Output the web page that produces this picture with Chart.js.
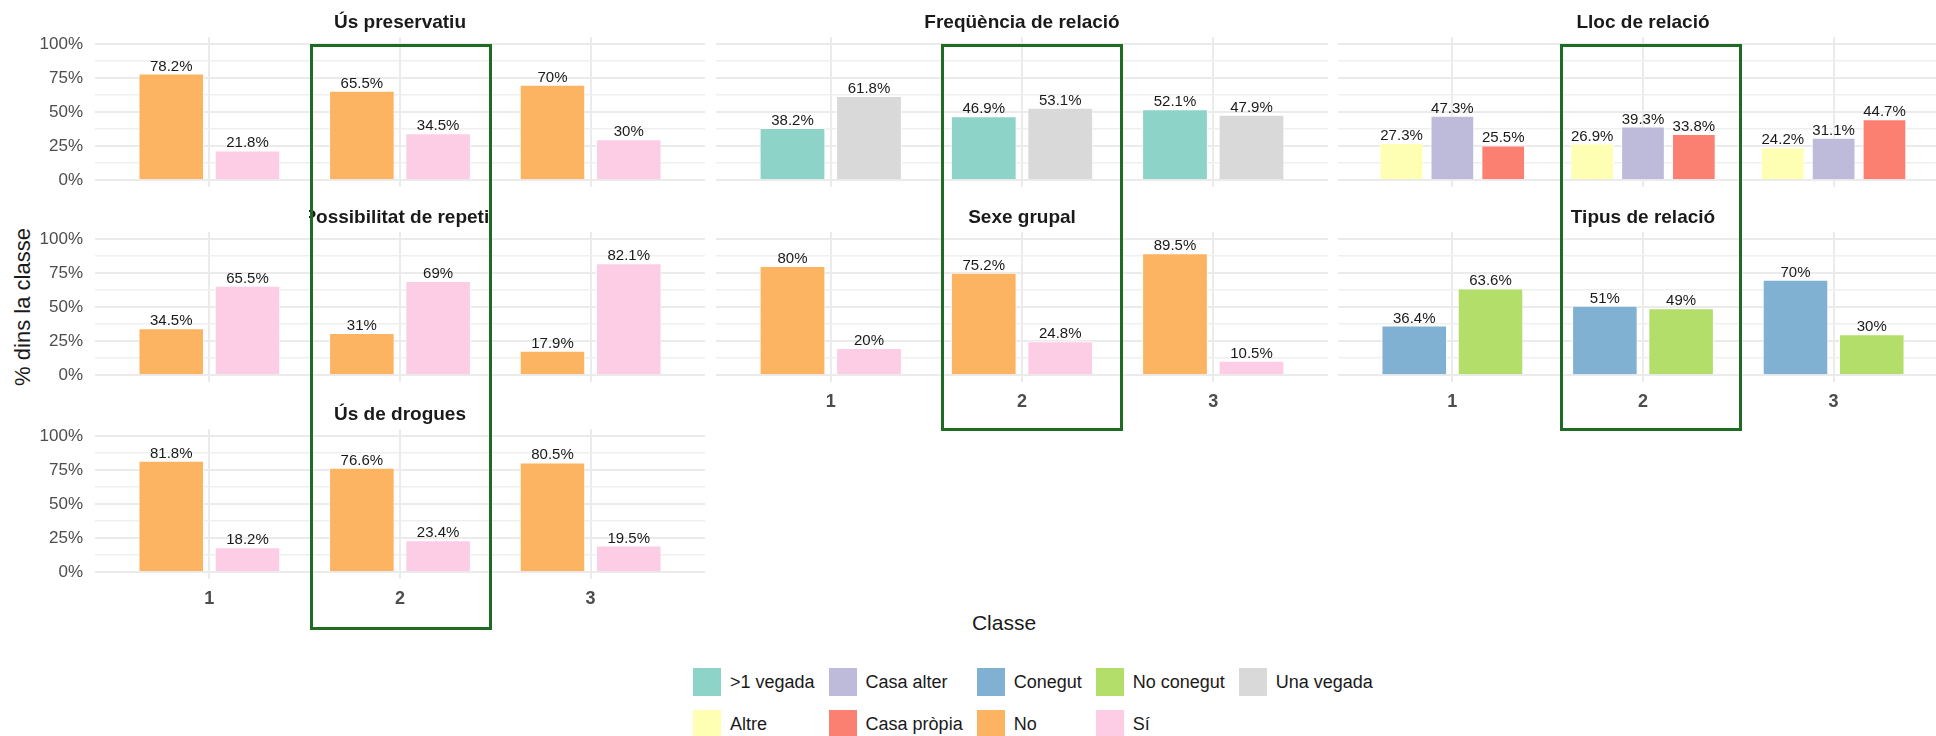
<!DOCTYPE html>
<html>
<head>
<meta charset="utf-8">
<script src="https://cdn.jsdelivr.net/npm/chart.js@4.4.1/dist/chart.umd.min.js"></script>
<style>
  html, body { margin: 0; padding: 0; background: #fff; }
  body { width: 1936px; height: 736px; overflow: hidden; position: relative; font-family: 'Liberation Sans', Arial, sans-serif; }
  .panel { position: absolute; }
  .box { position: absolute; border: 3px solid #1f6b23; box-sizing: border-box; pointer-events: none; z-index: 5; }
  #ytitle { position: absolute; left: 23px; top: 307px; transform: translate(-50%, -50%) rotate(-90deg); font-size: 22px; color: #1a1a1a; white-space: nowrap; }
  #xtitle { position: absolute; left: 1004px; top: 623px; transform: translate(-50%, -50%); font-size: 21px; color: #1a1a1a; }
  #legend { position: absolute; left: 693px; top: 668px; display: grid; grid-auto-flow: column; grid-template-rows: 28px 28px; row-gap: 14px; column-gap: 14px; }
  .item { display: flex; align-items: center; font-size: 18px; color: #1a1a1a; white-space: nowrap; }
  .key { width: 28px; height: 28px; margin-right: 9px; }
</style>
</head>
<body>
<div id="ytitle">% dins la classe</div>
<div id="xtitle">Classe</div>
<div id="legend"></div>
<script>
// Classes on the x axis and the y ticks
const classes = ['1', '2', '3'];
const yTicks = [0, 25, 50, 75, 100];
const yMinorTicks = [12.5, 37.5, 62.5, 87.5];

// % within each class
const preservatiuNo = [78.2, 65.5, 70];
const preservatiuSi = [21.8, 34.5, 30];
const frequenciaMesUna = [38.2, 46.9, 52.1];
const frequenciaUna = [61.8, 53.1, 47.9];
const llocAltre = [27.3, 26.9, 24.2];
const llocCasaAlter = [47.3, 39.3, 31.1];
const llocCasaPropia = [25.5, 33.8, 44.7];
const repetirNo = [34.5, 31, 17.9];
const repetirSi = [65.5, 69, 82.1];
const grupalNo = [80, 75.2, 89.5];
const grupalSi = [20, 24.8, 10.5];
const tipusConegut = [36.4, 51, 70];
const tipusNoConegut = [63.6, 49, 30];
const droguesNo = [81.8, 76.6, 80.5];
const droguesSi = [18.2, 23.4, 19.5];

const legendOrder = ['>1 vegada', 'Altre', 'Casa alter', 'Casa pròpia', 'Conegut', 'No', 'No conegut', 'Sí', 'Una vegada'];

// Set3 palette
const colors = {
  '>1 vegada': '#8DD3C7', 'Altre': '#FFFFB3', 'Casa alter': '#BEBADA', 'Casa pròpia': '#FB8072',
  'Conegut': '#80B1D3', 'No': '#FDB462', 'No conegut': '#B3DE69', 'Sí': '#FCCDE5', 'Una vegada': '#D9D9D9'
};

const panels = [
  { title: 'Ús preservatiu', col: 0, row: 0, series: [['No', preservatiuNo], ['Sí', preservatiuSi]] },
  { title: 'Freqüència de relació', col: 1, row: 0, series: [['>1 vegada', frequenciaMesUna], ['Una vegada', frequenciaUna]] },
  { title: 'Lloc de relació', col: 2, row: 0, series: [['Altre', llocAltre], ['Casa alter', llocCasaAlter], ['Casa pròpia', llocCasaPropia]] },
  { title: 'Possibilitat de repetir', col: 0, row: 1, series: [['No', repetirNo], ['Sí', repetirSi]], clipTitle: true },
  { title: 'Sexe grupal', col: 1, row: 1, series: [['No', grupalNo], ['Sí', grupalSi]], xLabels: true },
  { title: 'Tipus de relació', col: 2, row: 1, series: [['Conegut', tipusConegut], ['No conegut', tipusNoConegut]], xLabels: true },
  { title: 'Ús de drogues', col: 0, row: 2, series: [['No', droguesNo], ['Sí', droguesSi]], xLabels: true }
];

// layout
const colLeft = [0, 716, 1338];
const colRight = [705, 1328, 1948];
const rowTop = [0, 195, 392];
const TITLE_H = 37, PLOT_H = 150, XAXIS_H = 40;

const valueLabels = {
  id: 'valueLabels',
  afterDatasetsDraw(chart) {
    const ctx = chart.ctx;
    ctx.save();
    ctx.font = '15px "Liberation Sans Narrow", "Liberation Sans", Arial, sans-serif';
    ctx.fillStyle = '#1a1a1a';
    ctx.textAlign = 'center';
    ctx.textBaseline = 'alphabetic';
    chart.data.datasets.forEach((ds, di) => {
      chart.getDatasetMeta(di).data.forEach((bar, i) => {
        ctx.fillText(ds.data[i].y + '%', bar.x, bar.y - 3);
      });
    });
    ctx.restore();
  }
};

function panelTitle(text, clip) {
  return {
    id: 'panelTitle',
    afterDraw(chart) {
      const { ctx, chartArea } = chart;
      const cx = (chartArea.left + chartArea.right) / 2;
      ctx.save();
      if (clip) {
        ctx.beginPath();
        ctx.rect(cx - 91, 0, 182, chartArea.top);
        ctx.clip();
      }
      ctx.font = 'bold 19px "Liberation Sans", Arial, sans-serif';
      ctx.fillStyle = '#1a1a1a';
      ctx.textAlign = 'center';
      ctx.textBaseline = 'middle';
      ctx.fillText(text, cx, chartArea.top - 14);
      ctx.restore();
    }
  };
}

function makePanel(p) {
  const left = colLeft[p.col];
  const width = colRight[p.col] - left;
  const height = TITLE_H + PLOT_H + XAXIS_H;
  const top = rowTop[p.row];
  const showY = p.col === 0;

  const wrap = document.createElement('div');
  wrap.className = 'panel';
  wrap.style.left = left + 'px';
  wrap.style.top = top + 'px';
  wrap.style.width = width + 'px';
  wrap.style.height = height + 'px';
  const canvas = document.createElement('canvas');
  canvas.width = width;
  canvas.height = height;
  canvas.style.width = width + 'px';
  canvas.style.height = height + 'px';
  wrap.appendChild(canvas);
  document.body.appendChild(wrap);

  new Chart(canvas, {
    type: 'bar',
    data: {
      datasets: p.series.map(([name, values]) => ({
        label: name,
        data: values.map((v, i) => ({ x: i + 1, y: v })),
        backgroundColor: colors[name],
        borderColor: 'rgba(255,255,255,0.8)',
        borderWidth: 1,
        categoryPercentage: 0.8,
        barPercentage: 0.86
      }))
    },
    options: {
      responsive: false,
      animation: false,
      devicePixelRatio: 1,
      layout: { padding: { top: TITLE_H, left: 0, right: 0, bottom: 0 } },
      plugins: { legend: { display: false }, tooltip: { enabled: false }, title: { display: false } },
      scales: {
        x: {
          type: 'linear',
          min: 0.4,
          max: 3.6,
          offset: false,
          border: { display: false },
          grid: { offset: false, color: '#ebebeb', lineWidth: 2, drawTicks: false },
          afterBuildTicks: s => { s.ticks = classes.map((c, i) => ({ value: i + 1 })); },
          afterFit: s => { s.height = XAXIS_H; },
          ticks: {
            display: !!p.xLabels,
            autoSkip: false,
            maxRotation: 0,
            padding: 9,
            color: '#4d4d4d',
            font: { family: '"Liberation Sans", Arial, sans-serif', size: 18, weight: 'bold' },
            callback: v => classes[v - 1]
          }
        },
        y: {
          min: -5,
          max: 105,
          border: { display: false },
          grid: {
            color: ctx => yTicks.includes(ctx.tick.value) ? '#ebebeb' : '#efefef',
            lineWidth: ctx => yTicks.includes(ctx.tick.value) ? 2 : 1.5,
            drawTicks: false
          },
          afterBuildTicks: s => { s.ticks = yTicks.concat(yMinorTicks).sort((a, b) => a - b).map(v => ({ value: v })); },
          afterFit: s => { s.width = showY ? 95 : 0; },
          ticks: {
            display: showY,
            autoSkip: false,
            padding: 12,
            color: '#4d4d4d',
            font: { family: '"Liberation Sans", Arial, sans-serif', size: 17 },
            callback: v => yTicks.includes(v) ? v + '%' : ''
          }
        }
      }
    },
    plugins: [valueLabels, panelTitle(p.title, p.clipTitle)]
  });
}

panels.forEach(makePanel);

// highlight boxes around class 2
[[310, 44, 182, 586], [941, 44, 182, 387], [1560, 44, 182, 387]].forEach(([x, y, w, h]) => {
  const b = document.createElement('div');
  b.className = 'box';
  b.style.left = x + 'px';
  b.style.top = y + 'px';
  b.style.width = w + 'px';
  b.style.height = h + 'px';
  document.body.appendChild(b);
});

// legend
const legend = document.getElementById('legend');
legendOrder.forEach(name => {
  const item = document.createElement('div');
  item.className = 'item';
  item.innerHTML = `<span class="key" style="background:${colors[name]}"></span><span></span>`;
  item.lastChild.textContent = name;
  legend.appendChild(item);
});
</script>
</body>
</html>
